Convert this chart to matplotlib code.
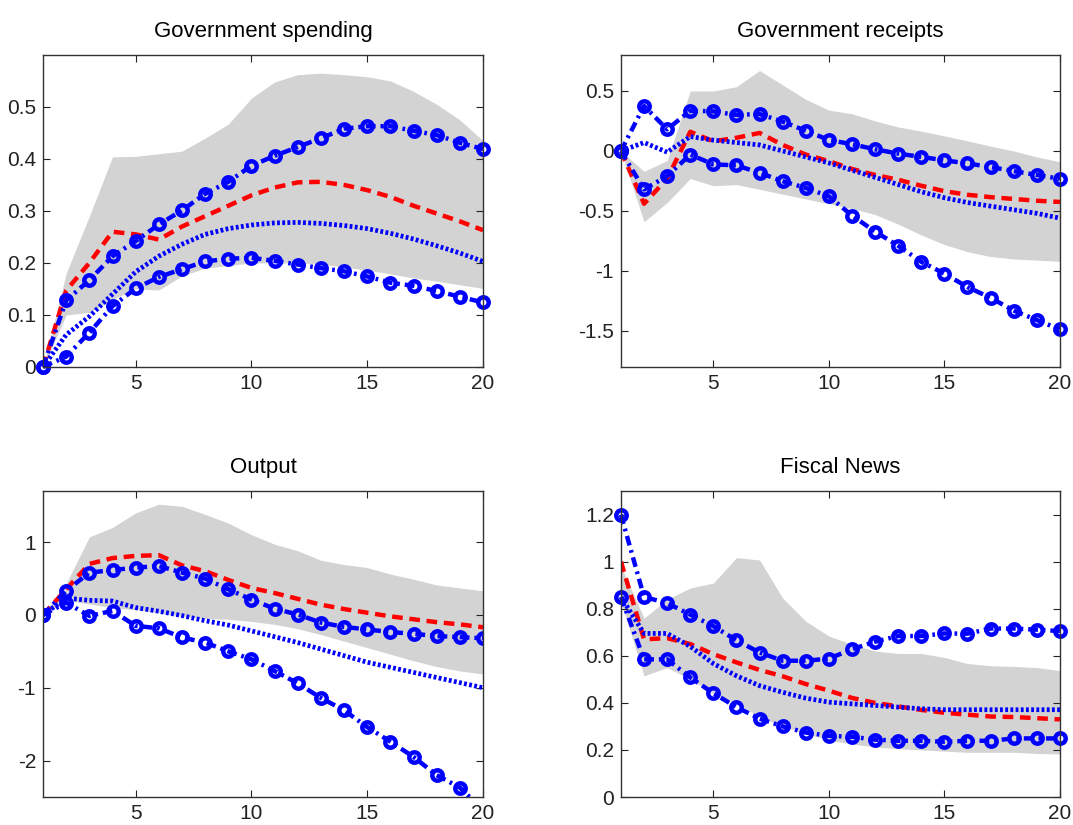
import matplotlib
matplotlib.use("Agg")
import matplotlib.pyplot as plt
from matplotlib.ticker import FuncFormatter
import numpy as np

plt.rcParams['font.family'] = ['Liberation Sans', 'DejaVu Sans']

h = np.arange(1, 21)

# Government spending
gs_hi = [0, 0.18, 0.29, 0.404, 0.405, 0.41, 0.415, 0.44, 0.467, 0.517, 0.548, 0.562, 0.565, 0.562, 0.558, 0.55, 0.53, 0.505, 0.475, 0.435]
gs_lo = [0, 0.10, 0.105, 0.13, 0.15, 0.148, 0.175, 0.19, 0.195, 0.2, 0.2, 0.2, 0.198, 0.192, 0.186, 0.179, 0.171, 0.165, 0.158, 0.151]
gs_red = [0, 0.147, 0.2, 0.26, 0.255, 0.245, 0.27, 0.29, 0.31, 0.33, 0.345, 0.355, 0.356, 0.35, 0.34, 0.327, 0.31, 0.295, 0.28, 0.263]
gs_dot = [0, 0.062, 0.097, 0.14, 0.183, 0.213, 0.236, 0.255, 0.266, 0.273, 0.277, 0.278, 0.276, 0.272, 0.266, 0.257, 0.246, 0.233, 0.219, 0.203]
gs_up = [0, 0.128, 0.167, 0.213, 0.242, 0.274, 0.301, 0.333, 0.356, 0.387, 0.406, 0.423, 0.44, 0.458, 0.463, 0.463, 0.454, 0.446, 0.431, 0.419]
gs_low = [0, 0.02, 0.066, 0.117, 0.151, 0.173, 0.188, 0.203, 0.208, 0.21, 0.204, 0.197, 0.19, 0.184, 0.174, 0.162, 0.156, 0.146, 0.135, 0.124]

# Government receipts
gr_hi = [0, -0.17, -0.08, 0.5, 0.5, 0.535, 0.67, 0.55, 0.43, 0.34, 0.31, 0.25, 0.2, 0.165, 0.125, 0.084, 0.04, 0.0, -0.05, -0.09]
gr_lo = [0, -0.59, -0.43, -0.23, -0.29, -0.28, -0.32, -0.36, -0.40, -0.44, -0.48, -0.53, -0.61, -0.70, -0.78, -0.84, -0.88, -0.90, -0.91, -0.92]
gr_red = [0, -0.44, -0.23, 0.16, 0.08, 0.11, 0.15, 0.05, -0.03, -0.085, -0.15, -0.2, -0.24, -0.29, -0.335, -0.365, -0.385, -0.4, -0.415, -0.425]
gr_dot = [0, 0.07, -0.01, 0.12, 0.09, 0.07, 0.05, 0.0, -0.05, -0.1, -0.16, -0.22, -0.28, -0.34, -0.39, -0.43, -0.46, -0.49, -0.52, -0.56]
gr_up = [0, 0.375, 0.18, 0.335, 0.33, 0.30, 0.308, 0.244, 0.168, 0.092, 0.056, 0.014, -0.022, -0.05, -0.078, -0.104, -0.134, -0.168, -0.2, -0.232]
gr_low = [0, -0.32, -0.21, -0.03, -0.112, -0.12, -0.182, -0.252, -0.308, -0.378, -0.538, -0.672, -0.79, -0.924, -1.022, -1.134, -1.224, -1.33, -1.409, -1.487]

# Output
y_hi = [0, 0.43, 1.07, 1.2, 1.4, 1.52, 1.49, 1.38, 1.26, 1.1, 0.97, 0.88, 0.75, 0.69, 0.65, 0.56, 0.49, 0.41, 0.37, 0.33]
y_lo = [0, 0.2, 0.15, 0.1, 0.07, 0.03, -0.02, -0.05, -0.06, -0.09, -0.13, -0.19, -0.27, -0.36, -0.45, -0.54, -0.63, -0.71, -0.77, -0.81]
y_red = [0, 0.35, 0.70, 0.78, 0.81, 0.82, 0.68, 0.6, 0.48, 0.37, 0.3, 0.22, 0.14, 0.08, 0.03, -0.02, -0.06, -0.1, -0.13, -0.17]
y_dot = [0, 0.23, 0.2, 0.19, 0.1, 0.05, -0.01, -0.08, -0.14, -0.22, -0.3, -0.38, -0.47, -0.56, -0.65, -0.72, -0.79, -0.86, -0.93, -1.0]
y_up = [0, 0.33, 0.58, 0.616, 0.648, 0.671, 0.58, 0.498, 0.352, 0.21, 0.085, 0.005, -0.105, -0.165, -0.2, -0.235, -0.26, -0.29, -0.305, -0.32]
y_low = [0, 0.169, -0.014, 0.055, -0.151, -0.183, -0.31, -0.379, -0.5, -0.61, -0.77, -0.94, -1.14, -1.31, -1.54, -1.74, -1.95, -2.2, -2.37, -2.68]

# Fiscal News
fn_hi = [0.98, 0.76, 0.84, 0.888, 0.909, 1.017, 1.007, 0.845, 0.747, 0.684, 0.649, 0.62, 0.61, 0.61, 0.593, 0.567, 0.558, 0.555, 0.55, 0.537]
fn_lo = [0.83, 0.515, 0.55, 0.5, 0.44, 0.4, 0.34, 0.3, 0.27, 0.242, 0.225, 0.213, 0.205, 0.2, 0.195, 0.19, 0.19, 0.19, 0.185, 0.183]
fn_red = [1.0, 0.67, 0.675, 0.65, 0.607, 0.572, 0.54, 0.513, 0.48, 0.452, 0.421, 0.40, 0.385, 0.37, 0.358, 0.35, 0.342, 0.34, 0.335, 0.33]
fn_dot = [0.85, 0.695, 0.695, 0.64, 0.567, 0.515, 0.473, 0.445, 0.42, 0.403, 0.396, 0.389, 0.382, 0.375, 0.371, 0.371, 0.371, 0.371, 0.371, 0.371]
fn_up = [1.2, 0.85, 0.824, 0.775, 0.726, 0.666, 0.614, 0.579, 0.579, 0.588, 0.628, 0.66, 0.684, 0.684, 0.695, 0.694, 0.716, 0.716, 0.711, 0.705]
fn_low = [0.85, 0.585, 0.585, 0.508, 0.441, 0.382, 0.333, 0.30, 0.274, 0.26, 0.256, 0.244, 0.239, 0.239, 0.235, 0.239, 0.239, 0.249, 0.249, 0.249]

panels = [
    ("Government spending", gs_hi, gs_lo, gs_red, gs_dot, gs_up, gs_low, (0, 0.6), [0, 0.1, 0.2, 0.3, 0.4, 0.5]),
    ("Government receipts", gr_hi, gr_lo, gr_red, gr_dot, gr_up, gr_low, (-1.8, 0.8), [-1.5, -1, -0.5, 0, 0.5]),
    ("Output", y_hi, y_lo, y_red, y_dot, y_up, y_low, (-2.5, 1.7), [-2, -1, 0, 1]),
    ("Fiscal News", fn_hi, fn_lo, fn_red, fn_dot, fn_up, fn_low, (0, 1.3), [0, 0.2, 0.4, 0.6, 0.8, 1, 1.2]),
]

boxes = [
    [0.0401, 0.5552, 0.4101, 0.3782],
    [0.5787, 0.5552, 0.4091, 0.3782],
    [0.0401, 0.0339, 0.4101, 0.3709],
    [0.5787, 0.0339, 0.4091, 0.3709],
]

fig = plt.figure(figsize=(10.73, 8.25), dpi=100)
fmt = FuncFormatter(lambda v, p: "%g" % v)

for (title, hi, lo, red, dot, up, low, ylim, yt), box in zip(panels, boxes):
    ax = fig.add_axes(box)
    ax.fill_between(h, lo, hi, color="#d3d3d3", lw=0)
    ax.plot(h, red, color="red", lw=3.2, dashes=(2.4, 1.5))
    ax.plot(h, dot, color="blue", lw=3.4, dashes=(0.6, 0.5))
    # markers at the frame edge are drawn whole, except where the line leaves the box
    clip = title == "Output"
    for s in (up, low):
        ax.plot(h, s, color="blue", lw=3.2, dashes=(2.2, 1.1, 0.6, 1.1),
                marker="o", ms=7.5, mfc="none", mec="blue", mew=3.2, clip_on=clip)
    ax.set_xlim(1, 20)
    ax.set_ylim(*ylim)
    ax.set_xticks([5, 10, 15, 20])
    ax.set_yticks(yt)
    ax.yaxis.set_major_formatter(fmt)
    ax.tick_params(direction="in", top=True, right=True, length=5, width=0.8,
                   labelsize=15, colors="#222222", pad=5)
    for sp in ax.spines.values():
        sp.set_linewidth(1.0)
        sp.set_color("#333333")
    ax.set_title(title, fontsize=16, pad=13)

fig.savefig("out.png", dpi=100)
